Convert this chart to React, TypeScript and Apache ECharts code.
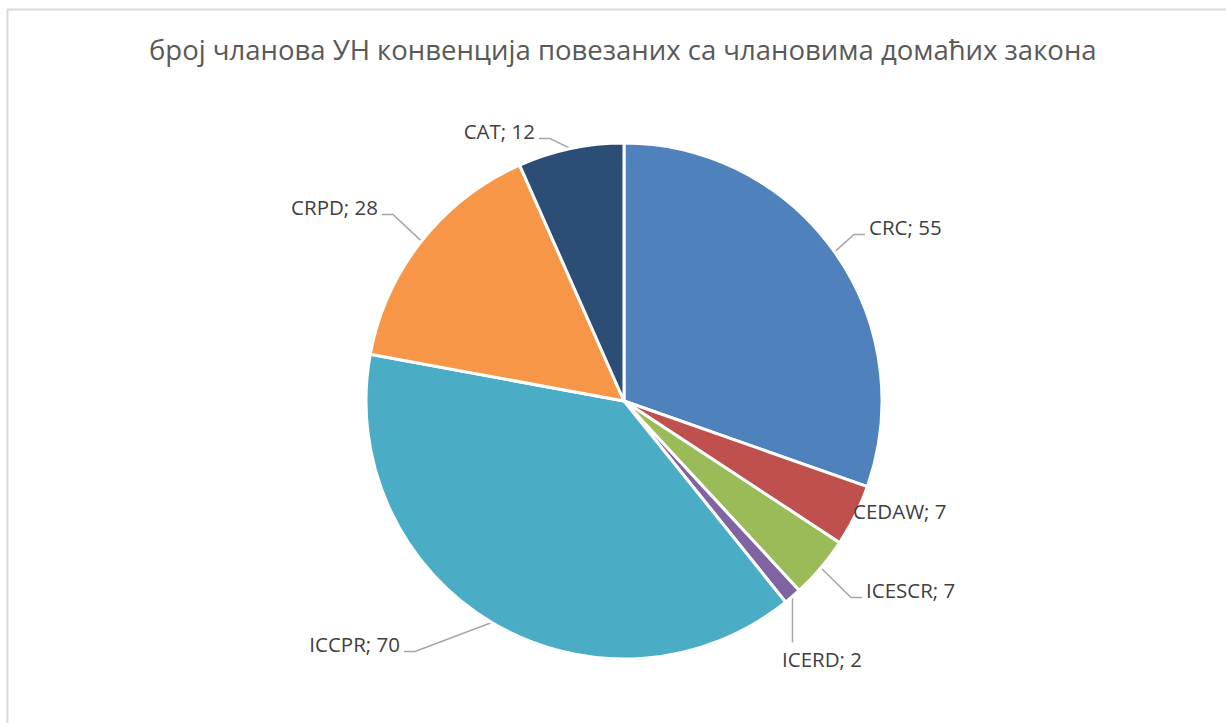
import React, { useEffect, useRef } from "react";
import * as echarts from "echarts";

const titleText = "број чланова УН конвенција повезаних са члановима домаћих закона";
const categories = ["CRC", "CEDAW", "ICESCR", "ICERD", "ICCPR", "CRPD", "CAT"];
const values = [55, 7, 7, 2, 70, 28, 12];
const colors = ["#4F81BD", "#C0504D", "#9BBB59", "#8064A2", "#4BACC6", "#F79646", "#2C4D75"];

// label anchor offsets from the pie centre (layout only): [dx, dy, align]
const labelOffsets: [number, number, string][] = [
  [241, -167, "left"],
  [225, 117, "left"],
  [238, 196, "left"],
  [154, 265, "left"],
  [-220, 250, "right"],
  [-242, -187, "right"],
  [-85, -263, "right"],
];
const showLine = [true, false, true, true, true, true, true];
// leader drawn straight down from the slice edge (layout only)
const verticalLeader = [0, 0, 0, 46, 0, 0, 0];

const CX = 624;
const CY = 401;

export default function App() {
  const ref = useRef<HTMLDivElement>(null);
  useEffect(() => {
    if (!ref.current) return;
    const chart = echarts.init(ref.current, null, { renderer: "svg" });
    chart.setOption({
      animation: false,
      backgroundColor: "#ffffff",
      title: {
        text: titleText,
        left: 144,
        top: 30,
        textStyle: {
          fontFamily: "Open Sans",
          fontSize: 27.5,
          fontWeight: "normal",
          color: "#595959",
        },
      },
      graphic: [
        {
          type: "rect",
          shape: { x: 7.5, y: 9.5, width: 1300, height: 800 },
          style: { fill: "none", stroke: "#D9D9D9", lineWidth: 2 },
          silent: true,
        },
      ],
      series: [
        {
          type: "pie",
          center: [CX, CY],
          radius: 258,
          startAngle: 90,
          clockwise: true,
          data: categories.map((c, i) => ({
            name: c,
            value: values[i],
            itemStyle: { color: colors[i] },
            labelLine: { show: showLine[i] },
          })),
          itemStyle: { borderColor: "#ffffff", borderWidth: 3 },
          label: {
            show: true,
            position: "outside",
            formatter: "{t|{b}; {c}}\n{g|}",
            rich: {
              t: {
                fontFamily: "Open Sans",
                fontSize: 20.5,
                lineHeight: 23,
                color: "#404040",
                padding: [0, 4, 0, 4],
              },
              g: { height: 14, lineHeight: 14, fontSize: 1 },
            },
          },
          labelLine: {
            show: true,
            length: 20,
            length2: 11,
            lineStyle: { color: "#A6A6A6", width: 1.5 },
          },
          labelLayout: (params: any) => {
            const i = params.dataIndex;
            const o = labelOffsets[i];
            const res: any = {
              x: CX + o[0],
              y: CY + o[1],
              align: o[2],
              verticalAlign: "middle",
            };
            const pts = params.labelLinePoints;
            if (verticalLeader[i] && pts && pts[0]) {
              const p0 = pts[0];
              const p1 = [p0[0], p0[1] + verticalLeader[i]];
              res.labelLinePoints = [[p0[0], p0[1]], p1, p1];
            }
            return res;
          },
        },
      ],
    });
    return () => chart.dispose();
  }, []);
  return (
    <div
      ref={ref}
      style={{ position: "absolute", left: 0, top: 0, width: 1226, height: 723 }}
    />
  );
}
